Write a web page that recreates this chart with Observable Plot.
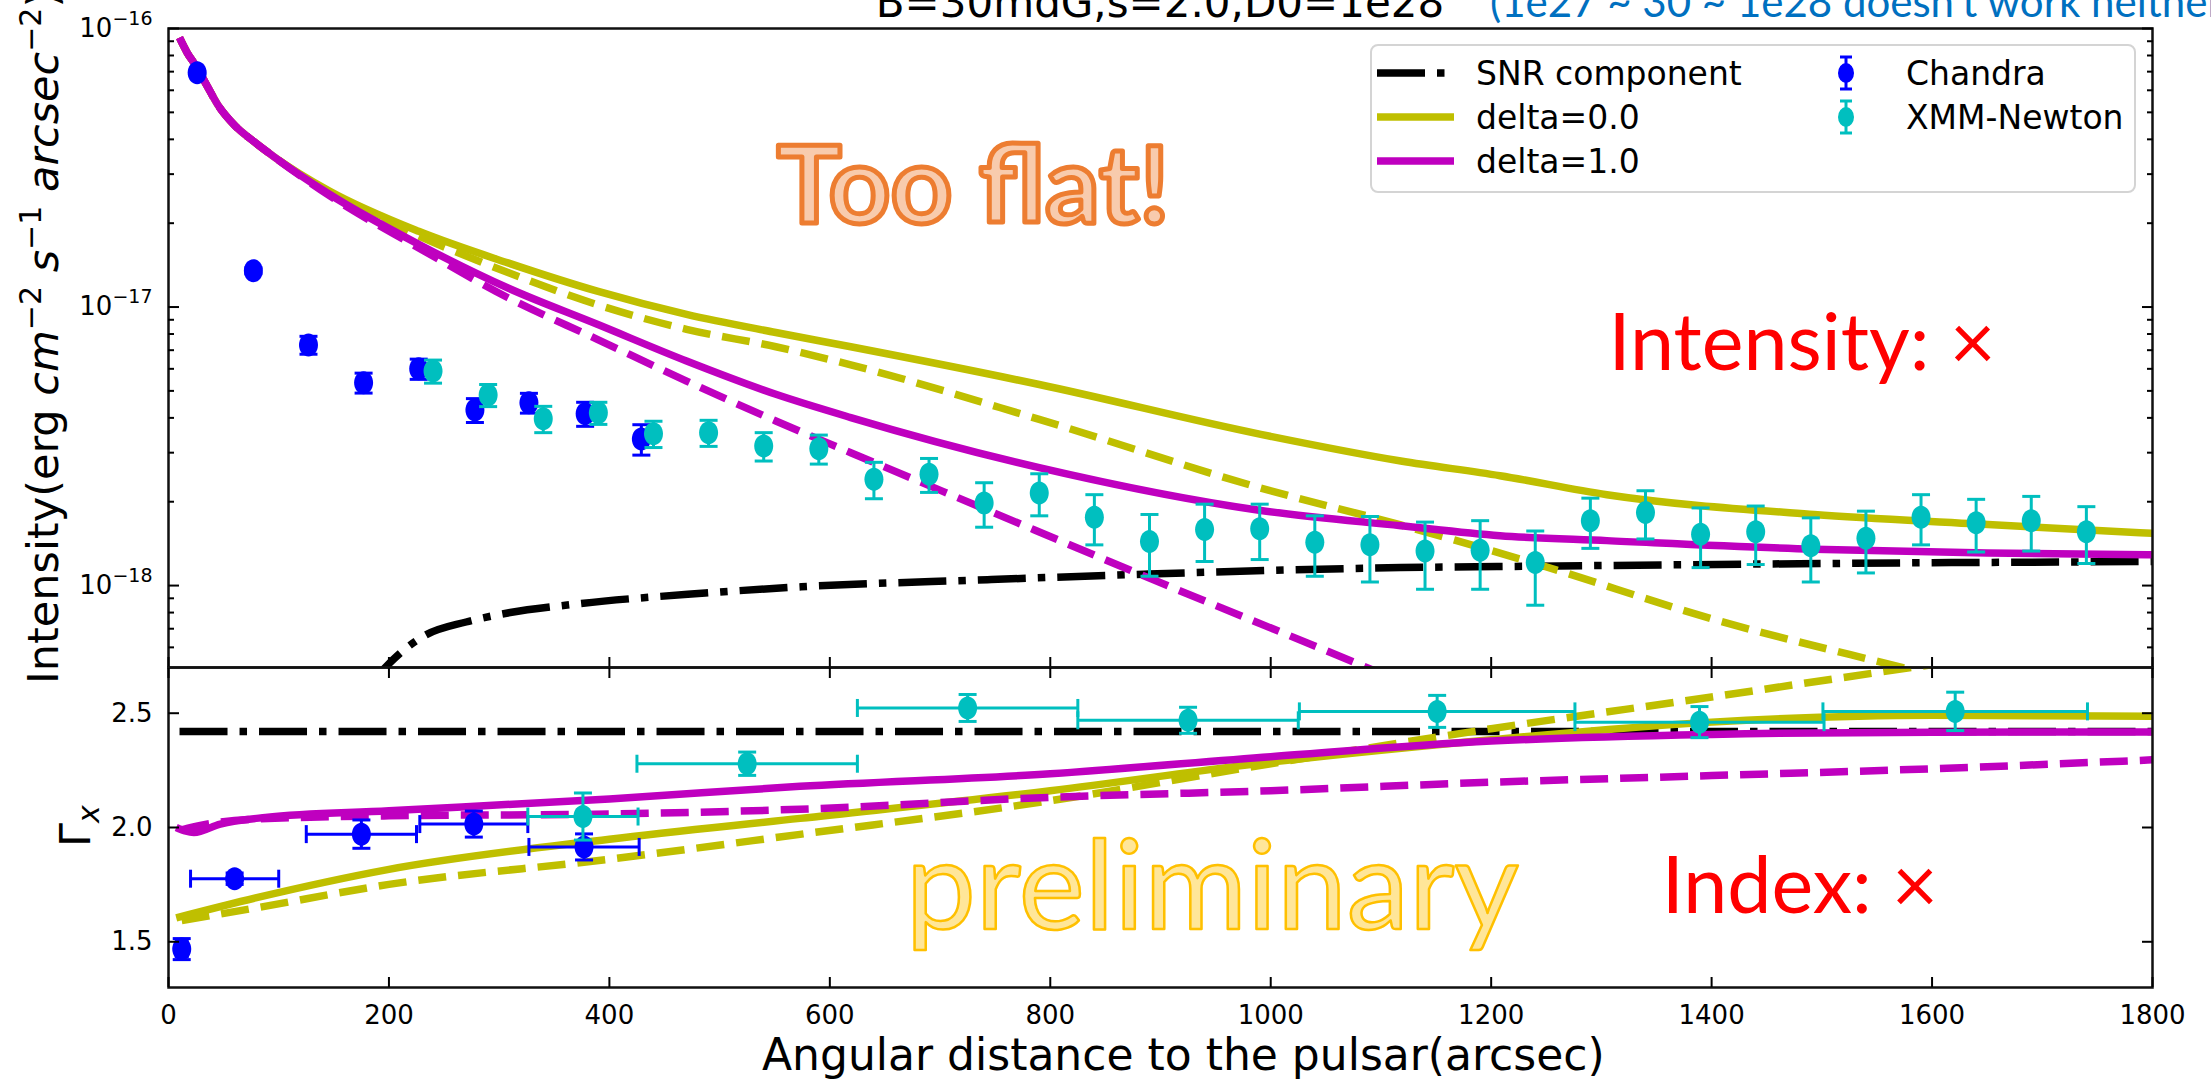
<!DOCTYPE html>
<html>
<head>
<meta charset="utf-8">
<script src="https://cdn.jsdelivr.net/npm/d3@7"></script>
<script src="https://cdn.jsdelivr.net/npm/@observablehq/plot@0.6"></script>
<style>
html, body { margin: 0; padding: 0; background: #fff; overflow: hidden; }
#wrap { position: relative; width: 2211px; height: 1080px; overflow: hidden; background: #fff; font-family: "DejaVu Sans", sans-serif; }
#wrap > svg { position: absolute; left: 0; overflow: visible; }
#legend { position: absolute; left: 1370px; top: 44px; width: 766px; height: 149px; box-sizing: border-box;
  border: 2px solid #d4d4d4; border-radius: 8px; background: rgba(255,255,255,0.85); }
#legend svg { position: absolute; left: 0; top: 0; overflow: visible; }
</style>
</head>
<body>
<div id="wrap"></div>
<script>
// ---------------- DATA ----------------
// Intensity profile: Chandra
const chandraX = [26, 77, 127, 177, 227, 278, 327, 378, 429];
const chandraI = [6.93e-17, 1.35e-17, 7.31e-18, 5.35e-18, 6.00e-18, 4.27e-18, 4.53e-18, 4.14e-18, 3.36e-18];
const chandraIErr = [1.0e-18, 0.33e-18, 0.54e-18, 0.44e-18, 0.50e-18, 0.42e-18, 0.37e-18, 0.41e-18, 0.42e-18];

// Intensity profile: XMM-Newton
const xmmX = [240, 290, 340, 390, 440, 490, 540, 590, 640, 690, 740, 790, 840, 890, 940, 990, 1040, 1090, 1140, 1190,
  1240, 1290, 1340, 1390, 1440, 1490, 1540, 1590, 1640, 1690, 1740];
const xmmI = [5.89e-18, 4.83e-18, 3.97e-18, 4.17e-18, 3.51e-18, 3.54e-18, 3.17e-18, 3.10e-18, 2.41e-18, 2.51e-18,
  1.98e-18, 2.15e-18, 1.76e-18, 1.44e-18, 1.59e-18, 1.60e-18, 1.43e-18, 1.40e-18, 1.33e-18, 1.34e-18,
  1.21e-18, 1.71e-18, 1.83e-18, 1.53e-18, 1.56e-18, 1.39e-18, 1.48e-18, 1.76e-18, 1.68e-18, 1.71e-18, 1.56e-18];
const xmmIErr = [0.56e-18, 0.44e-18, 0.43e-18, 0.38e-18, 0.38e-18, 0.38e-18, 0.37e-18, 0.37e-18, 0.36e-18, 0.35e-18,
  0.36e-18, 0.37e-18, 0.36e-18, 0.36e-18, 0.37e-18, 0.36e-18, 0.35e-18, 0.37e-18, 0.36e-18, 0.37e-18,
  0.36e-18, 0.35e-18, 0.36e-18, 0.37e-18, 0.37e-18, 0.36e-18, 0.37e-18, 0.36e-18, 0.36e-18, 0.38e-18, 0.36e-18];

// Intensity models
const snrIX = [180, 197, 212, 232, 270, 310, 360, 487, 574, 743, 889, 1118, 1208, 1500, 1800];
const snrI = [4.3e-19, 5.1e-19, 5.8e-19, 6.6e-19, 7.4e-19, 8.0e-19, 8.5e-19, 9.4e-19, 9.9e-19, 1.05e-18, 1.10e-18,
  1.16e-18, 1.17e-18, 1.20e-18, 1.22e-18];

const d0SolidIX = [10, 17, 25, 35, 45, 60, 77, 95, 146, 227, 308, 389, 470, 551, 619, 790, 991, 1118, 1208, 1305, 1493, 1634, 1800];
const d0SolidI = [9.27e-17, 8.18e-17, 7.33e-17, 6.22e-17, 5.3e-17, 4.49e-17, 3.94e-17, 3.48e-17, 2.61e-17, 1.87e-17,
  1.44e-17, 1.14e-17, 9.41e-18, 8.1e-18, 7.2e-18, 5.27e-18, 3.49e-18, 2.80e-18, 2.48e-18, 2.12e-18, 1.80e-18, 1.67e-18, 1.54e-18];

const d0DashIX = [10, 17, 25, 35, 45, 60, 77, 95, 146, 227, 308, 389, 470, 551, 619, 790, 991, 1118, 1240, 1400, 1580, 1700];
const d0DashI = [9.27e-17, 8.18e-17, 7.33e-17, 6.22e-17, 5.3e-17, 4.49e-17, 3.94e-17, 3.48e-17, 2.57e-17, 1.80e-17,
  1.33e-17, 1.02e-17, 8.32e-18, 7.2e-18, 6.2e-18, 3.95e-18, 2.24e-18, 1.65e-18, 1.20e-18, 7.6e-19, 5.0e-19, 3.8e-19];

const d1SolidIX = [10, 17, 25, 35, 45, 60, 77, 95, 146, 227, 308, 389, 470, 551, 619, 790, 991, 1118, 1208, 1305, 1493, 1650, 1800];
const d1SolidI = [9.27e-17, 8.18e-17, 7.33e-17, 6.22e-17, 5.3e-17, 4.49e-17, 3.94e-17, 3.48e-17, 2.54e-17, 1.68e-17,
  1.17e-17, 8.67e-18, 6.40e-18, 4.86e-18, 4.01e-18, 2.65e-18, 1.86e-18, 1.64e-18, 1.51e-18, 1.45e-18, 1.35e-18, 1.31e-18, 1.29e-18];

const d1DashIX = [10, 17, 25, 35, 45, 60, 77, 95, 146, 227, 308, 389, 470, 551, 619, 741, 881, 1084, 1200];
const d1DashI = [9.27e-17, 8.18e-17, 7.33e-17, 6.22e-17, 5.3e-17, 4.49e-17, 3.94e-17, 3.48e-17, 2.51e-17, 1.63e-17,
  1.08e-17, 7.66e-18, 5.42e-18, 3.90e-18, 3.00e-18, 1.88e-18, 1.10e-18, 5.14e-19, 3.3e-19];

// Photon index: Chandra
const chandraGX = [12, 60, 175, 277, 377];
const chandraG = [1.468, 1.776, 1.971, 2.015, 1.915];
const chandraGErr = [0.046, 0.025, 0.062, 0.057, 0.057];
const chandraGXErr = [5, 40, 50, 49, 50];

// Photon index: XMM-Newton
const xmmGX = [376, 525, 725, 925, 1151, 1389, 1621];
const xmmG = [2.048, 2.279, 2.523, 2.469, 2.508, 2.461, 2.508];
const xmmGErr = [0.103, 0.051, 0.059, 0.057, 0.070, 0.068, 0.084];
const xmmGXErr = [50, 100, 100, 100, 125, 113, 120];

// Photon index models
const snrGX = [10, 600, 1200, 1800];
const snrG = [2.42, 2.42, 2.42, 2.42];
const d0SolidGX = [7, 79, 200, 400, 573, 800, 1000, 1200, 1400, 1600, 1800];
const d0SolidG = [1.605, 1.692, 1.817, 1.949, 2.04, 2.161, 2.286, 2.384, 2.461, 2.491, 2.487];
const d0DashGX = [12, 79, 200, 400, 573, 800, 1000, 1200, 1400, 1586, 1700];
const d0DashG = [1.593, 1.648, 1.751, 1.861, 1.97, 2.117, 2.279, 2.432, 2.571, 2.703, 2.78];
const d1SolidGX = [7, 15, 23, 47, 88, 200, 400, 573, 800, 1000, 1200, 1400, 1600, 1800];
const d1SolidG = [2.00, 1.985, 1.978, 2.015, 2.044, 2.073, 2.125, 2.18, 2.235, 2.31, 2.378, 2.407, 2.417, 2.418];
const d1DashGX = [12, 30, 79, 200, 400, 573, 800, 1000, 1200, 1400, 1600, 1800];
const d1DashG = [1.99, 2.01, 2.037, 2.051, 2.059, 2.08, 2.132, 2.161, 2.198, 2.227, 2.257, 2.296];

// Ticks and text
const xTicks = [0, 200, 400, 600, 800, 1000, 1200, 1400, 1600, 1800];
const yTicksI = [1e-16, 1e-17, 1e-18];
const yTicksG = [1.5, 2.0, 2.5];
const legendLines = ["SNR component", "delta=0.0", "delta=1.0"];
const legendData = ["Chandra", "XMM-Newton"];
const titleText = "B=30mdG,s=2.0,D0=1e28";
const noteText = "(1e27 ~ 30 ~ 1e28 doesn't work neither)";
const xLabel = "Angular distance to the pulsar(arcsec)";
// annotation texts with their anchor positions in data units
const annotTop = [
  {text: "Too flat!", x: 730, y: 2.0e-17},
  {text: "Intensity: \u00d7", x: 1482, y: 5.94e-18}
];
const annotBottom = [
  {text: "preliminary", x: 947, y: 1.558},
  {text: "Index: \u00d7", x: 1480, y: 1.628}
];

// ---------------- STYLE ----------------
const W = 2211, SPLIT = 667, H = 1080;
const ML = 168, MR = 59;
const blue = "#0000ff", cyan = "#00bfbf", olive = "#bfbf00", magenta = "#bf00bf", black = "#000000";
const LW = 7.5, DASH = "28,12", DASHDOT = "48,12,7.5,12";

const rows = (xs, ys, es, xes) => xs.map((x, i) => ({x, y: ys[i], e: es ? es[i] : 0, xe: xes ? xes[i] : 0}));
const capH = {draw(ctx, size) { const w = Math.sqrt(size / Math.PI); ctx.moveTo(-w, 0); ctx.lineTo(w, 0); }};
const capV = {draw(ctx, size) { const w = Math.sqrt(size / Math.PI); ctx.moveTo(0, -w); ctx.lineTo(0, w); }};
const ellipseSym = (rx, ry) => ({draw(ctx) {
  const k = 0.5523;
  ctx.moveTo(rx, 0);
  ctx.bezierCurveTo(rx, k * ry, k * rx, ry, 0, ry);
  ctx.bezierCurveTo(-k * rx, ry, -rx, k * ry, -rx, 0);
  ctx.bezierCurveTo(-rx, -k * ry, -k * rx, -ry, 0, -ry);
  ctx.bezierCurveTo(k * rx, -ry, rx, -k * ry, rx, 0);
  ctx.closePath();
}});
const markerSym = ellipseSym(9.5, 11.5);

function curve(xs, ys, color, dash) {
  return Plot.line(rows(xs, ys), {x: "x", y: "y", stroke: color, strokeWidth: LW,
    strokeDasharray: dash || null, strokeLinecap: "butt", strokeLinejoin: "round", curve: "monotone-x", clip: true});
}
function errY(data, color) {
  return [
    Plot.ruleX(data, {x: "x", y1: d => d.y - d.e, y2: d => d.y + d.e, stroke: color, strokeWidth: 3}),
    Plot.dot(data, {x: "x", y: d => d.y - d.e, symbol: capH, r: 9, stroke: color, strokeWidth: 3, fill: "none"}),
    Plot.dot(data, {x: "x", y: d => d.y + d.e, symbol: capH, r: 9, stroke: color, strokeWidth: 3, fill: "none"})
  ];
}
function errX(data, color) {
  return [
    Plot.ruleY(data, {y: "y", x1: d => d.x - d.xe, x2: d => d.x + d.xe, stroke: color, strokeWidth: 3}),
    Plot.dot(data, {x: d => d.x - d.xe, y: "y", symbol: capV, r: 9, stroke: color, strokeWidth: 3, fill: "none"}),
    Plot.dot(data, {x: d => d.x + d.xe, y: "y", symbol: capV, r: 9, stroke: color, strokeWidth: 3, fill: "none"})
  ];
}
function markers(data, color) {
  return Plot.dot(data, {x: "x", y: "y", symbol: markerSym, r: 10, fill: color, stroke: "none"});
}
const fmtPow = d => "10|" + Math.round(Math.log10(d));

const minorI = [];
for (const e of [-19, -18, -17]) for (let k = 2; k <= 9; k++) {
  const v = k * Math.pow(10, e);
  if (v > 5.08e-19 && v < 1e-16) minorI.push(v);
}
const none = () => "";
const axisCommon = {label: null, color: black, strokeWidth: 2};

// ---------------- TOP PANEL ----------------
const chandraIRows = rows(chandraX, chandraI, chandraIErr);
const xmmIRows = rows(xmmX, xmmI, xmmIErr);

const topPlot = Plot.plot({
  width: W, height: SPLIT,
  marginLeft: ML, marginRight: MR, marginTop: 28, marginBottom: 0,
  style: {background: "transparent", overflow: "visible", fontFamily: "DejaVu Sans"},
  x: {domain: [0, 1800], axis: null},
  y: {type: "log", domain: [5.08e-19, 1e-16], axis: null},
  marks: [
    curve(snrIX, snrI, black, DASHDOT),
    curve(d0SolidIX, d0SolidI, olive),
    curve(d0DashIX, d0DashI, olive, DASH),
    curve(d1SolidIX, d1SolidI, magenta),
    curve(d1DashIX, d1DashI, magenta, DASH),
    ...errY(chandraIRows, blue), markers(chandraIRows, blue),
    ...errY(xmmIRows, cyan), markers(xmmIRows, cyan),
    Plot.frame({stroke: "#111", strokeWidth: 2.5}),
    Plot.axisY(yTicksI, {...axisCommon, anchor: "left", tickSize: -11, tickPadding: 27, tickFormat: fmtPow, fontSize: 26}),
    Plot.axisY(minorI, {...axisCommon, anchor: "left", tickSize: -6, tickFormat: none}),
    Plot.axisY(yTicksI, {...axisCommon, anchor: "right", tickSize: -11, tickFormat: none}),
    Plot.axisY(minorI, {...axisCommon, anchor: "right", tickSize: -6, tickFormat: none}),
    Plot.axisX(xTicks, {...axisCommon, anchor: "bottom", tickSize: -10, tickFormat: none}),
    Plot.text([annotTop[0]], {x: "x", y: "y", text: "text", fontFamily: "Lato", fontWeight: "bold", fontSize: 108,
      fill: "#f8cbad", stroke: "#ed7d31", strokeWidth: 5, paintOrder: "normal", textAnchor: "middle", lineAnchor: "bottom"}),
    Plot.text([annotTop[1]], {x: "x", y: "y", text: "text", fontFamily: "Lato", fontSize: 79,
      fill: "#ff0000", textAnchor: "middle", lineAnchor: "bottom"})
  ]
});
topPlot.style.top = "0px";

// ---------------- BOTTOM PANEL ----------------
const chandraGRows = rows(chandraGX, chandraG, chandraGErr, chandraGXErr);
const xmmGRows = rows(xmmGX, xmmG, xmmGErr, xmmGXErr);

const bottomPlot = Plot.plot({
  width: W, height: H - SPLIT,
  marginLeft: ML, marginRight: MR, marginTop: 0, marginBottom: 93,
  style: {background: "transparent", overflow: "visible", fontFamily: "DejaVu Sans"},
  x: {domain: [0, 1800], axis: null},
  y: {domain: [1.3, 2.7], axis: null},
  marks: [
    curve(snrGX, snrG, black, DASHDOT),
    curve(d0SolidGX, d0SolidG, olive),
    curve(d0DashGX, d0DashG, olive, DASH),
    curve(d1SolidGX, d1SolidG, magenta),
    curve(d1DashGX, d1DashG, magenta, DASH),
    ...errX(chandraGRows, blue), ...errY(chandraGRows, blue), markers(chandraGRows, blue),
    ...errX(xmmGRows, cyan), ...errY(xmmGRows, cyan), markers(xmmGRows, cyan),
    Plot.frame({stroke: "#111", strokeWidth: 2.5}),
    Plot.axisY(yTicksG, {...axisCommon, anchor: "left", tickSize: -11, tickPadding: 27, tickFormat: d => d.toFixed(1), fontSize: 26}),
    Plot.axisY(yTicksG, {...axisCommon, anchor: "right", tickSize: -11, tickFormat: none}),
    Plot.axisX(xTicks, {...axisCommon, anchor: "bottom", tickSize: -10, tickPadding: 28, tickFormat: d => String(d), fontSize: 26}),
    Plot.axisX(xTicks, {...axisCommon, anchor: "top", tickSize: -10, tickFormat: none}),
    Plot.text([annotBottom[0]], {x: "x", y: "y", text: "text", fontFamily: "Lato", fontSize: 125,
      fill: "#ffe699", stroke: "#ffc000", strokeWidth: 2.5, paintOrder: "normal", textAnchor: "middle", lineAnchor: "bottom"}),
    Plot.text([annotBottom[1]], {x: "x", y: "y", text: "text", fontFamily: "Lato", fontSize: 79,
      fill: "#ff0000", textAnchor: "middle", lineAnchor: "bottom"})
  ]
});
bottomPlot.style.top = SPLIT + "px";

const wrap = document.getElementById("wrap");
wrap.appendChild(topPlot);
wrap.appendChild(bottomPlot);

// ---------------- LABELS / TITLE ----------------
const st = d3.select(topPlot);
// power-of-ten tick labels with raised exponents
st.selectAll("text").filter(function() { return /^10\|/.test(this.textContent); }).each(function() {
  const exp = this.textContent.split("|")[1].replace("-", "\u2212");
  const s = d3.select(this);
  s.text("10");
  s.append("tspan").attr("dy", -12).attr("font-size", 19).text(exp);
});

st.append("text").attr("x", 1160).attr("y", 17).attr("text-anchor", "middle")
  .attr("font-family", "DejaVu Sans").attr("font-size", 42).attr("fill", "#000").text(titleText);
st.append("text").attr("x", 1490).attr("y", 17).attr("text-anchor", "start")
  .attr("font-family", "Lato").attr("font-size", 42).attr("fill", "#0070c0").text(noteText);

// y label of top panel (rotated, mixed styles)
const yl = st.append("text").attr("transform", "translate(58,684) rotate(-90)")
  .attr("text-anchor", "start").attr("font-family", "DejaVu Sans").attr("font-size", 43).attr("fill", "#000");
const ylParts = [
  ["Intensity(erg ", false, false], ["cm", true, false], ["\u22122", false, true], [" ", false, false],
  ["s", true, false], ["\u22121", false, true], [" ", false, false], ["arcsec", true, false], ["\u22122", false, true], [")", false, false]
];
let raised = false;
for (const [t, ital, sup] of ylParts) {
  const ts = yl.append("tspan").text(t);
  if (ital) ts.attr("font-style", "italic");
  if (sup && !raised) { ts.attr("dy", -17).attr("font-size", 30); raised = true; }
  else if (sup) { ts.attr("font-size", 30); }
  else if (!sup && raised) { ts.attr("dy", 17); raised = false; }
}

// y label of bottom panel
const sb = d3.select(bottomPlot);
const gl = sb.append("text").attr("transform", "translate(90,180) rotate(-90)")
  .attr("text-anchor", "start").attr("font-family", "DejaVu Sans").attr("font-size", 43).attr("fill", "#000");
gl.append("tspan").text("\u0393");
gl.append("tspan").attr("font-style", "italic").attr("font-size", 30).attr("dy", 9).text("x");

// x label
sb.append("text").attr("x", 762).attr("y", 403).attr("text-anchor", "start")
  .attr("font-family", "DejaVu Sans").attr("font-size", 44).attr("fill", "#000").text(xLabel);

// ---------------- LEGEND ----------------
const leg = document.createElement("div");
leg.id = "legend";
wrap.appendChild(leg);
const ls = d3.select(leg).append("svg").attr("width", 766).attr("height", 149);
const rowY = [27, 71, 115];
const lineStyles = [[black, DASHDOT], [olive, null], [magenta, null]];
legendLines.forEach((name, i) => {
  ls.append("line").attr("x1", 5).attr("x2", 82).attr("y1", rowY[i]).attr("y2", rowY[i])
    .attr("stroke", lineStyles[i][0]).attr("stroke-width", LW)
    .attr("stroke-dasharray", lineStyles[i][1]).attr("stroke-linecap", "butt");
  ls.append("text").attr("x", 104).attr("y", rowY[i]).attr("dy", "0.35em")
    .attr("font-family", "DejaVu Sans").attr("font-size", 33).attr("fill", "#000").text(name);
});
const dataColors = [blue, cyan];
legendData.forEach((name, i) => {
  const y = rowY[i], cx = 474, c = dataColors[i];
  ls.append("line").attr("x1", cx).attr("x2", cx).attr("y1", y - 16).attr("y2", y + 16).attr("stroke", c).attr("stroke-width", 3);
  ls.append("line").attr("x1", cx - 6).attr("x2", cx + 6).attr("y1", y - 16).attr("y2", y - 16).attr("stroke", c).attr("stroke-width", 3);
  ls.append("line").attr("x1", cx - 6).attr("x2", cx + 6).attr("y1", y + 16).attr("y2", y + 16).attr("stroke", c).attr("stroke-width", 3);
  ls.append("ellipse").attr("cx", cx).attr("cy", y).attr("rx", 8).attr("ry", 10).attr("fill", c);
  ls.append("text").attr("x", 534).attr("y", y).attr("dy", "0.35em")
    .attr("font-family", "DejaVu Sans").attr("font-size", 33).attr("fill", "#000").text(name);
});
</script>
</body>
</html>
